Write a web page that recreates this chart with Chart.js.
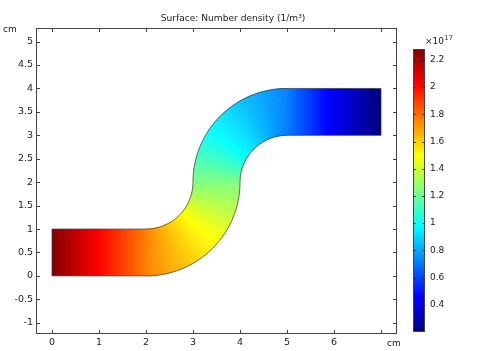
<!DOCTYPE html>
<html><head><meta charset="utf-8">
<script src="https://cdn.jsdelivr.net/npm/chart.js@4.4.1/dist/chart.umd.min.js"></script>
<style>
html,body{margin:0;padding:0;background:#fff;overflow:hidden}
#wrap{position:relative;width:485px;height:351px}
canvas{position:absolute;top:0}
#main{left:0}
#cbar{left:400px}
</style></head><body>
<div id="wrap"><canvas id="main" width="485" height="351"></canvas><canvas id="cbar" width="85" height="351"></canvas></div>
<script>
// ---- data (cm and 1e17 1/m^3) ----
const titleText = 'Surface: Number density (1/m\u00B3)';
const xTicks = [0, 1, 2, 3, 4, 5, 6, 7];
const yTicks = [-1, -0.5, 0, 0.5, 1, 1.5, 2, 2.5, 3, 3.5, 4, 4.5, 5];
const cbTicks = [0.4, 0.6, 0.8, 1, 1.2, 1.4, 1.6, 1.8, 2, 2.2];
const xRange = [-0.34, 7.34];
const yRange = [-1.24, 5.29];
const colorRange = [0.2, 2.28];
// geometry of the channel
const inletX = [0, 2], inletY = [0, 1];
const outletX = [5, 7], outletY = [3, 4];
const bendCenterX = [2, 5], bendCenterY = [2, 2];
const bendRadius = [1, 2];
// density along the channel centre line (distance from inlet, cm)
const stationS = [0, 1, 2, 3.29, 4.36, 5.22, 6.71, 7.6, 8.71];
const densityE17 = [2.27, 2.02, 1.76, 1.50, 1.24, 0.98, 0.72, 0.46, 0.20];

const FONT = 'DejaVu Sans';
const TXT = '#222';

function clamp(v){return Math.max(0, Math.min(1, v));}
function jet(v){
  const t = clamp((v - colorRange[0]) / (colorRange[1] - colorRange[0]));
  const r = clamp(1.5 - Math.abs(4*t - 3));
  const g = clamp(1.5 - Math.abs(4*t - 2));
  const b = clamp(1.5 - Math.abs(4*t - 1));
  return 'rgb(' + Math.round(r*255) + ',' + Math.round(g*255) + ',' + Math.round(b*255) + ')';
}
function densityAt(s){
  if (s <= stationS[0]) return densityE17[0];
  for (let i = 1; i < stationS.length; i++){
    if (s <= stationS[i]){
      const f = (s - stationS[i-1]) / (stationS[i] - stationS[i-1]);
      return densityE17[i-1] + f * (densityE17[i] - densityE17[i-1]);
    }
  }
  return densityE17[densityE17.length-1];
}

const surfacePlugin = {
  id: 'surface',
  beforeDatasetsDraw(chart){
    const ctx = chart.ctx, xs = chart.scales.x, ys = chart.scales.y;
    const P = (x, y) => [xs.getPixelForValue(x), ys.getPixelForValue(y)];
    const arcLen = Math.PI/2 * (bendRadius[0] + bendRadius[1]) / 2;
    const s0 = inletX[1] - inletX[0], s1 = s0 + arcLen, s2 = s1 + arcLen;
    ctx.save();
    const poly = (pts, col, sw) => {
      ctx.beginPath();
      pts.forEach((p, i) => { const q = P(p[0], p[1]); i ? ctx.lineTo(q[0], q[1]) : ctx.moveTo(q[0], q[1]); });
      ctx.closePath();
      ctx.fillStyle = col; ctx.fill();
      if (sw){ ctx.strokeStyle = col; ctx.lineWidth = sw; ctx.stroke(); }
    };
    const straight = (xr, yr, sStart) => {
      const pa = P(xr[0], yr[0]), pb = P(xr[1], yr[1]);
      const g = ctx.createLinearGradient(pa[0], 0, pb[0], 0);
      for (let i = 0; i <= 40; i++){ const x = xr[0] + (xr[1]-xr[0]) * i / 40; g.addColorStop(i/40, jet(densityAt(sStart + x - xr[0]))); }
      ctx.fillStyle = g;
      ctx.fillRect(pa[0], pb[1], pb[0] - pa[0], pa[1] - pb[1]);
    };
    straight(inletX, inletY, 0);
    const N = 200;
    // bend 1
    for (let i = 0; i < N; i++){
      const a = -Math.PI/2 + (Math.PI/2) * i / N, b = -Math.PI/2 + (Math.PI/2) * (i+1) / N;
      const cx = bendCenterX[0], cy = bendCenterY[0], r0 = bendRadius[0], r1 = bendRadius[1];
      const s = s0 + ((a+b)/2 + Math.PI/2) / (Math.PI/2) * arcLen;
      poly([[cx + r0*Math.cos(a), cy + r0*Math.sin(a)], [cx + r1*Math.cos(a), cy + r1*Math.sin(a)],
            [cx + r1*Math.cos(b), cy + r1*Math.sin(b)], [cx + r0*Math.cos(b), cy + r0*Math.sin(b)]], jet(densityAt(s)), 0.5);
    }
    // bend 2
    for (let i = 0; i < N; i++){
      const a = Math.PI - (Math.PI/2) * i / N, b = Math.PI - (Math.PI/2) * (i+1) / N;
      const cx = bendCenterX[1], cy = bendCenterY[1], r0 = bendRadius[0], r1 = bendRadius[1];
      const s = s1 + (Math.PI - (a+b)/2) / (Math.PI/2) * arcLen;
      poly([[cx + r0*Math.cos(a), cy + r0*Math.sin(a)], [cx + r1*Math.cos(a), cy + r1*Math.sin(a)],
            [cx + r1*Math.cos(b), cy + r1*Math.sin(b)], [cx + r0*Math.cos(b), cy + r0*Math.sin(b)]], jet(densityAt(s)), 0.5);
    }
    straight(outletX, outletY, s2);
    // outline
    const pts = [];
    pts.push([inletX[0], inletY[0]], [inletX[1], inletY[0]]);
    for (let i = 0; i <= 60; i++){ const a = -Math.PI/2 + Math.PI/2*i/60; pts.push([bendCenterX[0] + bendRadius[1]*Math.cos(a), bendCenterY[0] + bendRadius[1]*Math.sin(a)]); }
    for (let i = 0; i <= 60; i++){ const a = Math.PI - Math.PI/2*i/60; pts.push([bendCenterX[1] + bendRadius[0]*Math.cos(a), bendCenterY[1] + bendRadius[0]*Math.sin(a)]); }
    pts.push([outletX[1], outletY[0]], [outletX[1], outletY[1]], [outletX[0], outletY[1]]);
    for (let i = 0; i <= 60; i++){ const a = Math.PI/2 + Math.PI/2*i/60; pts.push([bendCenterX[1] + bendRadius[1]*Math.cos(a), bendCenterY[1] + bendRadius[1]*Math.sin(a)]); }
    for (let i = 0; i <= 60; i++){ const a = 0 - Math.PI/2*i/60; pts.push([bendCenterX[0] + bendRadius[0]*Math.cos(a), bendCenterY[0] + bendRadius[0]*Math.sin(a)]); }
    pts.push([inletX[0], inletY[1]]);
    ctx.beginPath();
    pts.forEach((p, i) => { const q = P(p[0], p[1]); i ? ctx.lineTo(q[0], q[1]) : ctx.moveTo(q[0], q[1]); });
    ctx.closePath();
    ctx.strokeStyle = 'rgba(60,60,60,0.9)'; ctx.lineWidth = 0.8; ctx.stroke();
    ctx.restore();
  },
  afterDraw(chart){
    const ctx = chart.ctx, a = chart.chartArea, xs = chart.scales.x, ys = chart.scales.y;
    ctx.save();
    ctx.strokeStyle = '#444'; ctx.lineWidth = 1;
    ctx.strokeRect(Math.round(a.left) + 0.5, Math.round(a.top) + 0.5, Math.round(a.right - a.left) - 1, Math.round(a.bottom - a.top) - 1);
    ctx.beginPath();
    xTicks.forEach(v => { const x = Math.round(xs.getPixelForValue(v)) + 0.5;
      ctx.moveTo(x, a.bottom); ctx.lineTo(x, a.bottom - 4); ctx.moveTo(x, a.top); ctx.lineTo(x, a.top + 4); });
    yTicks.forEach(v => { const y = Math.round(ys.getPixelForValue(v)) + 0.5;
      ctx.moveTo(a.left, y); ctx.lineTo(a.left + 4, y); ctx.moveTo(a.right, y); ctx.lineTo(a.right - 4, y); });
    ctx.stroke();
    ctx.fillStyle = TXT; ctx.textBaseline = 'middle';
    ctx.font = '9.1px "' + FONT + '"'; ctx.textAlign = 'center';
    ctx.fillText(titleText, 233, 19);
    ctx.font = '9px "' + FONT + '"'; ctx.textAlign = 'left';
    ctx.fillText('cm', 3, 30);
    ctx.fillText('cm', 387, 344);
    ctx.restore();
  }
};

new Chart(document.getElementById('main'), {
  type: 'scatter',
  data: { datasets: [{ data: [], pointRadius: 0 }] },
  options: {
    responsive: false, animation: false, devicePixelRatio: 1,
    layout: { padding: { left: 0, right: 88, top: 28, bottom: 0 } },
    plugins: { legend: { display: false }, tooltip: { enabled: false }, title: { display: false } },
    scales: {
      x: { type: 'linear', min: xRange[0], max: xRange[1],
        afterBuildTicks: s => { s.ticks = xTicks.map(v => ({ value: v })); },
        afterFit: s => { s.height = 17; },
        grid: { display: false, drawTicks: false }, border: { display: false },
        ticks: { padding: 3, color: TXT, font: { family: FONT, size: 9.5 }, maxRotation: 0, autoSkip: false,
          callback: v => (v === 7 ? '' : String(v)) } },
      y: { type: 'linear', min: yRange[0], max: yRange[1],
        afterBuildTicks: s => { s.ticks = yTicks.map(v => ({ value: v })); },
        afterFit: s => { s.width = 36; },
        grid: { display: false, drawTicks: false }, border: { display: false },
        ticks: { padding: 3, color: TXT, font: { family: FONT, size: 9.5 }, autoSkip: false,
          callback: v => String(v) } }
    }
  },
  plugins: [surfacePlugin]
});

// ---- colour bar ----
const cbPlugin = {
  id: 'cbdeco',
  afterDraw(chart){
    const ctx = chart.ctx, a = chart.chartArea, ys = chart.scales.y;
    ctx.save();
    ctx.strokeStyle = '#444'; ctx.lineWidth = 1;
    ctx.strokeRect(Math.round(a.left) + 0.5, Math.round(a.top) + 0.5, Math.round(a.right - a.left) - 1, Math.round(a.bottom - a.top) - 1);
    ctx.beginPath();
    cbTicks.forEach(v => { const y = Math.round(ys.getPixelForValue(v)) + 0.5;
      ctx.moveTo(a.left, y); ctx.lineTo(a.left + 3, y); ctx.moveTo(a.right, y); ctx.lineTo(a.right - 3, y); });
    ctx.strokeStyle = 'rgba(40,40,40,0.8)'; ctx.stroke();
    ctx.fillStyle = TXT; ctx.textBaseline = 'middle'; ctx.textAlign = 'left';
    ctx.font = '9px "' + FONT + '"';
    ctx.fillText('\u00D710', 25, 42);
    ctx.font = '6.5px "' + FONT + '"';
    ctx.fillText('17', 44.5, 38);
    ctx.restore();
  }
};
new Chart(document.getElementById('cbar'), {
  type: 'bar',
  data: { labels: ['n'], datasets: [{ data: [[colorRange[0], colorRange[1]]], borderWidth: 0, borderSkipped: false,
    barPercentage: 1, categoryPercentage: 1,
    backgroundColor: c => {
      const ch = c.chart, a = ch.chartArea;
      if (!a) return '#888';
      const ys = ch.scales.y;
      const g = ch.ctx.createLinearGradient(0, ys.getPixelForValue(colorRange[0]), 0, ys.getPixelForValue(colorRange[1]));
      for (let i = 0; i <= 40; i++){ const v = colorRange[0] + (colorRange[1]-colorRange[0]) * i / 40; g.addColorStop(i/40, jet(v)); }
      return g;
    } }] },
  options: {
    responsive: false, animation: false, devicePixelRatio: 1,
    layout: { padding: { left: 13, right: 0, top: 49, bottom: 19 } },
    plugins: { legend: { display: false }, tooltip: { enabled: false } },
    scales: {
      x: { display: false },
      y: { position: 'right', min: colorRange[0], max: colorRange[1],
        afterBuildTicks: s => { s.ticks = cbTicks.map(v => ({ value: v })); },
        afterFit: s => { s.width = 60; },
        grid: { display: false, drawTicks: false }, border: { display: false },
        ticks: { padding: 5, color: TXT, font: { family: FONT, size: 9 }, autoSkip: false,
          callback: v => String(Number(v.toFixed(1))) } }
    }
  },
  plugins: [cbPlugin]
});
</script>
</body></html>
